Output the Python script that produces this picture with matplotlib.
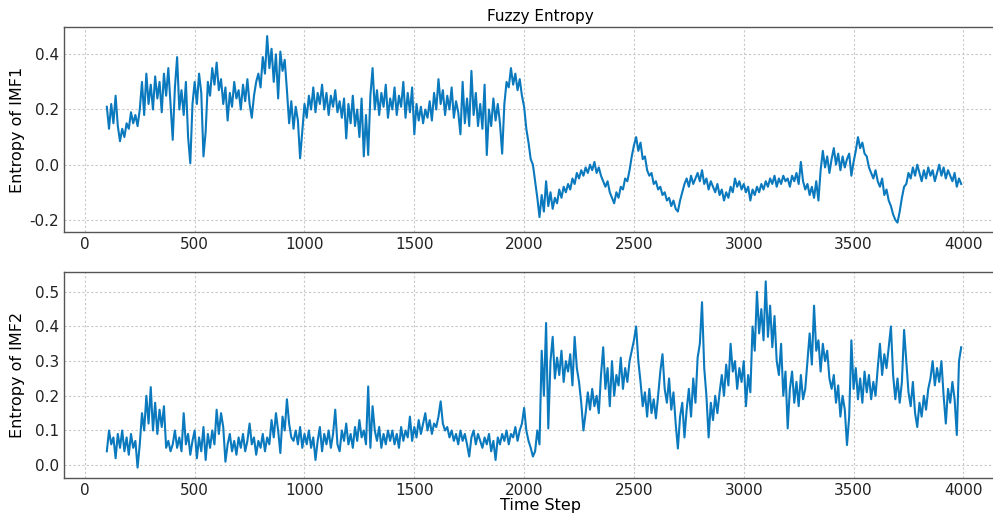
import numpy as np
import matplotlib
matplotlib.use("Agg")
import matplotlib.pyplot as plt

# Time steps (every 10 steps from 100 to 3990)
time_start, time_stop, time_stride = 100, 4000, 10
time_step = np.arange(time_start, time_stop, time_stride)

entropy_imf1 = [
    0.21, 0.13, 0.22, 0.15, 0.25, 0.14, 0.085, 0.13, 0.10, 0.15,
    0.13, 0.19, 0.15, 0.18, 0.14, 0.20, 0.30, 0.18, 0.33, 0.22,
    0.29, 0.20, 0.32, 0.24, 0.30, 0.19, 0.33, 0.25, 0.35, 0.22,
    0.09, 0.28, 0.39, 0.20, 0.27, 0.18, 0.30, 0.10, 0.005, 0.22,
    0.30, 0.22, 0.33, 0.26, 0.03, 0.12, 0.30, 0.25, 0.35, 0.29,
    0.37, 0.27, 0.31, 0.22, 0.28, 0.16, 0.26, 0.21, 0.30, 0.24,
    0.27, 0.20, 0.29, 0.23, 0.31, 0.22, 0.17, 0.25, 0.30, 0.33,
    0.28, 0.39, 0.33, 0.466, 0.35, 0.42, 0.30, 0.40, 0.24, 0.41,
    0.34, 0.38, 0.27, 0.15, 0.23, 0.13, 0.21, 0.16, 0.023, 0.12,
    0.22, 0.17, 0.25, 0.20, 0.28, 0.19, 0.26, 0.22, 0.29, 0.20,
    0.26, 0.18, 0.25, 0.21, 0.27, 0.19, 0.23, 0.17, 0.24, 0.095,
    0.22, 0.15, 0.25, 0.14, 0.20, 0.10, 0.24, 0.03, 0.18, 0.035,
    0.25, 0.35, 0.20, 0.27, 0.18, 0.26, 0.21, 0.29, 0.17, 0.24,
    0.20, 0.28, 0.18, 0.25, 0.21, 0.30, 0.17, 0.26, 0.19, 0.28,
    0.11, 0.22, 0.16, 0.21, 0.15, 0.20, 0.17, 0.23, 0.16, 0.26,
    0.20, 0.31, 0.22, 0.27, 0.18, 0.25, 0.20, 0.28, 0.17, 0.23,
    0.19, 0.11, 0.30, 0.15, 0.24, 0.14, 0.34, 0.18, 0.26, 0.14,
    0.22, 0.13, 0.29, 0.035, 0.20, 0.14, 0.24, 0.16, 0.22, 0.15,
    0.04, 0.22, 0.30, 0.28, 0.35, 0.29, 0.33, 0.27, 0.31, 0.25,
    0.21, 0.13, 0.08, 0.02, 0.00, -0.06, -0.12, -0.19, -0.11, -0.17,
    -0.06, -0.15, -0.10, -0.16, -0.12, -0.14, -0.09, -0.12, -0.08, -0.10,
    -0.07, -0.09, -0.05, -0.07, -0.03, -0.05, -0.02, -0.04, -0.01, -0.03,
    0.00, -0.02, 0.01, -0.03, -0.01, -0.04, -0.06, -0.08, -0.06, -0.10,
    -0.12, -0.14, -0.10, -0.12, -0.08, -0.09, -0.05, -0.06, -0.02, 0.03,
    0.07, 0.10, 0.05, 0.08, 0.02, 0.03, -0.02, -0.04, -0.03, -0.07,
    -0.06, -0.09, -0.08, -0.11, -0.10, -0.13, -0.12, -0.15, -0.13, -0.16,
    -0.17, -0.13, -0.10, -0.07, -0.05, -0.08, -0.04, -0.07, -0.05, -0.03,
    -0.06, -0.02, -0.07, -0.05, -0.09, -0.06, -0.08, -0.10, -0.07, -0.11,
    -0.09, -0.13, -0.10, -0.12, -0.08, -0.10, -0.05, -0.08, -0.06, -0.09,
    -0.07, -0.10, -0.08, -0.13, -0.09, -0.11, -0.08, -0.10, -0.07, -0.09,
    -0.06, -0.08, -0.05, -0.07, -0.04, -0.08, -0.05, -0.07, -0.04, -0.06,
    -0.05, -0.08, -0.04, -0.06, -0.03, -0.07, 0.01, -0.06, -0.09, -0.07,
    -0.11, -0.08, -0.12, -0.06, -0.13, -0.02, 0.05, -0.01, 0.03, -0.03,
    0.02, 0.06, 0.00, 0.04, -0.02, 0.03, -0.01, 0.02, 0.04, -0.04,
    0.01, 0.05, 0.10, 0.06, 0.08, 0.04, 0.03, -0.01, -0.03, -0.05,
    -0.02, -0.06, -0.08, -0.05, -0.11, -0.09, -0.13, -0.15, -0.18, -0.20,
    -0.21, -0.17, -0.12, -0.08, -0.07, -0.03, -0.05, -0.01, -0.04, 0.00,
    -0.03, -0.06, -0.02, -0.05, -0.01, -0.04, -0.02, -0.06, -0.03, 0.00,
    -0.04, -0.01, -0.05, -0.02, -0.04, -0.06, -0.03, -0.08, -0.05, -0.07,
]

entropy_imf2 = [
    0.04, 0.10, 0.06, 0.08, 0.02, 0.09, 0.05, 0.10, 0.04, 0.08,
    0.03, 0.09, 0.05, 0.07, -0.007, 0.06, 0.15, 0.10, 0.20, 0.12,
    0.225, 0.10, 0.18, 0.09, 0.16, 0.11, 0.17, 0.05, 0.07, 0.04,
    0.06, 0.10, 0.05, 0.08, 0.04, 0.15, 0.06, 0.09, 0.03, 0.07,
    0.10, 0.02, 0.08, 0.04, 0.11, 0.015, 0.09, 0.05, 0.10, 0.06,
    0.16, 0.09, 0.15, 0.11, 0.01, 0.06, 0.09, 0.04, 0.07, 0.03,
    0.08, 0.05, 0.09, 0.04, 0.07, 0.12, 0.06, 0.08, 0.03, 0.07,
    0.05, 0.09, 0.04, 0.08, 0.06, 0.13, 0.08, 0.15, 0.10, 0.035,
    0.14, 0.10, 0.19, 0.12, 0.08, 0.07, 0.10, 0.06, 0.11, 0.05,
    0.09, 0.06, 0.10, 0.05, 0.08, 0.015, 0.07, 0.11, 0.04, 0.09,
    0.06, 0.10, 0.05, 0.09, 0.16, 0.06, 0.04, 0.10, 0.07, 0.12,
    0.06, 0.09, 0.05, 0.11, 0.07, 0.13, 0.08, 0.10, 0.06, 0.227,
    0.05, 0.17, 0.10, 0.07, 0.11, 0.05, 0.09, 0.06, 0.10, 0.07,
    0.10, 0.06, 0.09, 0.05, 0.11, 0.07, 0.10, 0.08, 0.14, 0.07,
    0.11, 0.08, 0.13, 0.09, 0.12, 0.15, 0.10, 0.13, 0.09, 0.12,
    0.11, 0.14, 0.184, 0.12, 0.10, 0.11, 0.08, 0.10, 0.07, 0.09,
    0.06, 0.10, 0.07, 0.09, 0.06, 0.025, 0.08, 0.10, 0.06, 0.09,
    0.07, 0.05, 0.08, 0.06, 0.09, 0.04, 0.07, 0.015, 0.08, 0.06,
    0.09, 0.07, 0.10, 0.06, 0.09, 0.08, 0.11, 0.07, 0.10, 0.12,
    0.165, 0.10, 0.07, 0.05, 0.025, 0.04, 0.10, 0.06, 0.33, 0.20,
    0.41, 0.106, 0.30, 0.37, 0.25, 0.31, 0.26, 0.33, 0.24, 0.30,
    0.27, 0.32, 0.23, 0.37, 0.28, 0.24, 0.18, 0.10, 0.15, 0.21,
    0.16, 0.22, 0.17, 0.20, 0.15, 0.26, 0.34, 0.22, 0.28, 0.17,
    0.30, 0.20, 0.26, 0.23, 0.31, 0.22, 0.28, 0.24, 0.30, 0.33,
    0.36, 0.40, 0.30, 0.24, 0.17, 0.21, 0.14, 0.22, 0.15, 0.19,
    0.135, 0.20, 0.27, 0.32, 0.22, 0.18, 0.25, 0.16, 0.21, 0.12,
    0.048, 0.14, 0.18, 0.08, 0.16, 0.22, 0.14, 0.25, 0.18, 0.31,
    0.35, 0.47, 0.28, 0.20, 0.08, 0.18, 0.13, 0.20, 0.15, 0.21,
    0.26, 0.20, 0.29, 0.23, 0.35, 0.27, 0.30, 0.22, 0.28, 0.24,
    0.30, 0.17, 0.26, 0.21, 0.40, 0.33, 0.50, 0.38, 0.45, 0.36,
    0.53, 0.37, 0.46, 0.34, 0.43, 0.30, 0.26, 0.35, 0.20, 0.27,
    0.106, 0.22, 0.27, 0.18, 0.24, 0.17, 0.26, 0.19, 0.22, 0.30,
    0.38, 0.29, 0.46, 0.33, 0.36, 0.27, 0.35, 0.30, 0.33, 0.25,
    0.22, 0.26, 0.18, 0.23, 0.14, 0.20, 0.16, 0.058, 0.14, 0.36,
    0.22, 0.28, 0.19, 0.25, 0.18, 0.27, 0.21, 0.26, 0.19, 0.24,
    0.20, 0.28, 0.35, 0.26, 0.32, 0.28, 0.34, 0.40, 0.26, 0.19,
    0.25, 0.18, 0.24, 0.39, 0.30, 0.21, 0.17, 0.24, 0.15, 0.11,
    0.18, 0.14, 0.20, 0.16, 0.22, 0.25, 0.30, 0.23, 0.28, 0.24,
    0.30, 0.20, 0.12, 0.22, 0.18, 0.24, 0.19, 0.087, 0.30, 0.34,
]

x_ticks = [0, 500, 1000, 1500, 2000, 2500, 3000, 3500, 4000]
y_ticks_imf1 = [-0.2, 0.0, 0.2, 0.4]
y_ticks_imf2 = [0.0, 0.1, 0.2, 0.3, 0.4, 0.5]

line_color = "#0a79bd"
plt.rcParams["font.family"] = ["DejaVu Sans"]

fig = plt.figure(figsize=(9.93, 5.17), dpi=100)
W, H = 993, 517
# axes geometry in pixels (right edge extends past the image, as in the reference)
left_px, width_px = 64, 942
ax1 = fig.add_axes([left_px / W, 1 - 232 / H, width_px / W, 205 / H])
ax2 = fig.add_axes([left_px / W, 1 - 478 / H, width_px / W, 206 / H])

for ax, y, ticks, ylab in [
    (ax1, entropy_imf1, y_ticks_imf1, "Entropy of IMF1"),
    (ax2, entropy_imf2, y_ticks_imf2, "Entropy of IMF2"),
]:
    ax.plot(time_step, y, color=line_color, linewidth=1.5)
    ax.set_xlim(-95, 4194)
    ax.set_xticks(x_ticks)
    ax.set_yticks(ticks)
    ax.set_yticklabels([f"{t:.1f}" for t in ticks])
    ax.grid(True, linestyle=(0, (2, 2)), color="#c8c8c8", linewidth=0.8)
    ax.tick_params(direction="in", length=0, labelsize=11, colors="#222222")
    for s in ax.spines.values():
        s.set_color("#555555")
        s.set_linewidth(1.0)
    ax.set_ylabel(ylab, fontsize=11.5)
    ax.yaxis.set_label_coords(-0.041, 0.5)

ax1.set_ylim(-0.244, 0.499)
ax2.set_ylim(-0.037, 0.557)
ax1.set_title("Fuzzy Entropy", fontsize=11, x=(540 - left_px) / width_px, pad=4)
ax2.set_xlabel("Time Step", fontsize=11.5, x=(540 - left_px) / width_px, labelpad=0)

fig.savefig("out.png", dpi=100)
